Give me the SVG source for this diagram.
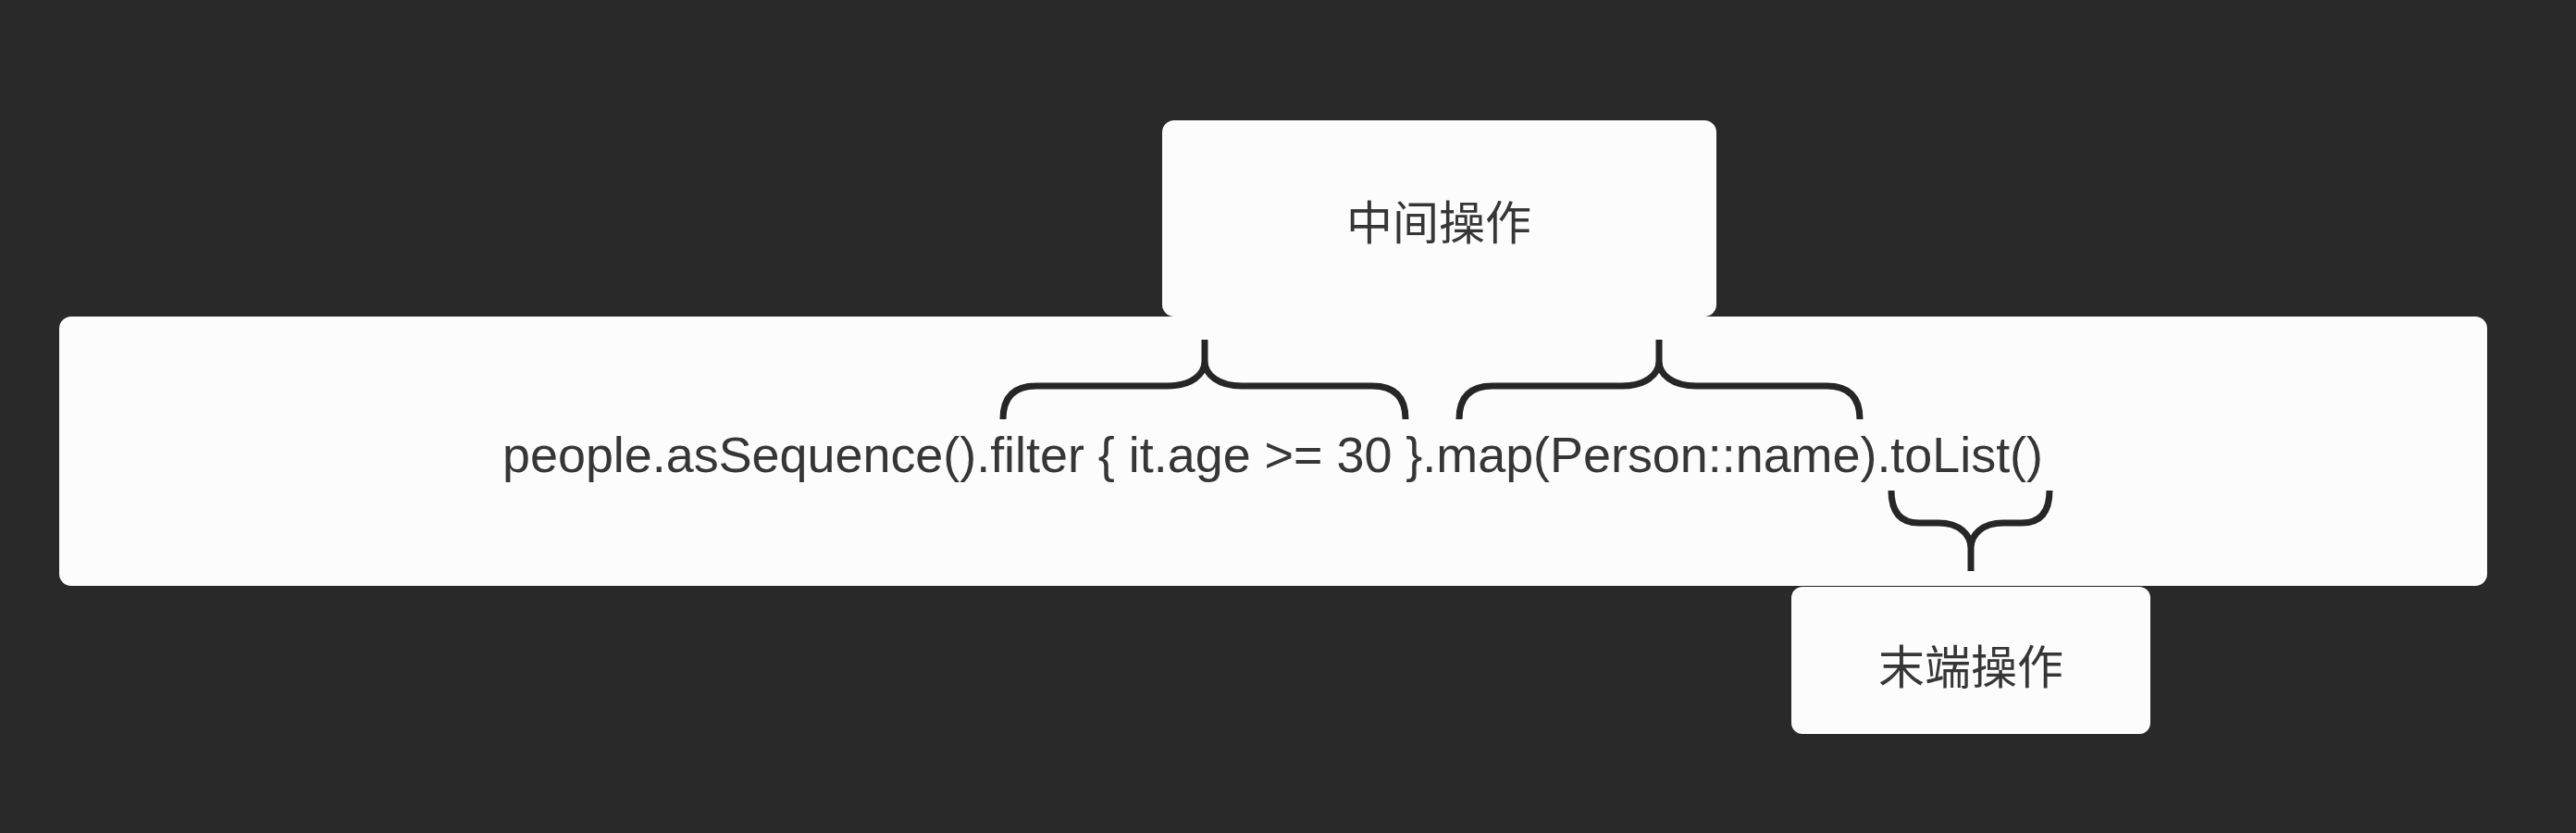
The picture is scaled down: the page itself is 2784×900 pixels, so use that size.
<svg xmlns="http://www.w3.org/2000/svg" width="2784" height="900" viewBox="0 0 2784 900">
  <style>
    .box { fill: #fcfcfc; }
    .code { font-family: "Liberation Sans", Arial, sans-serif; font-size: 54px; fill: #363636; }
    .label { font-family: "Noto Sans CJK SC", "Noto Sans", sans-serif; font-size: 50px; fill: #363636; text-anchor: middle; }
    .brace { fill: none; stroke: #262626; stroke-width: 7; stroke-linecap: butt; stroke-linejoin: round; }
  </style>
  <rect x="0" y="0" width="2784" height="900" fill="#292929"/>
  <g id="code-box">
    <rect class="box" x="64" y="342" width="2624" height="291" rx="13" ry="13"/>
    <text class="code" x="543" y="510" textLength="1665" lengthAdjust="spacingAndGlyphs">people.asSequence().filter { it.age &gt;= 30 }.map(Person::name).toList()</text>
  </g>
  <g id="intermediate-op">
    <rect class="box" x="1256" y="130" width="599" height="212" rx="13" ry="13"/>
    <text class="label" x="1555" y="259">中间操作</text>
  </g>
  <g id="terminal-op">
    <rect class="box" x="1936" y="634" width="388" height="159" rx="12" ry="12"/>
    <text class="label" x="2130" y="739">末端操作</text>
  </g>
  <g id="connectors">
    <path class="brace" d="M1084,453 Q1084,417 1120,417 L1262,417 C1287,417 1302,405 1302,390 L1302,367 M1302,390 C1302,405 1317,417 1342,417 L1483,417 Q1519,417 1519,453"/>
    <path class="brace" d="M1577,453 Q1577,417 1613,417 L1753,417 C1778,417 1793,405 1793,390 L1793,367 M1793,390 C1793,405 1808,417 1833,417 L1974,417 Q2010,417 2010,453"/>
    <path class="brace" d="M2044,530 Q2044,565 2074,565 L2095,565 C2118,565 2130,578 2130,592 L2130,617 M2130,592 C2130,578 2142,565 2165,565 L2185,565 Q2215,565 2215,530"/>
  </g>
</svg>
